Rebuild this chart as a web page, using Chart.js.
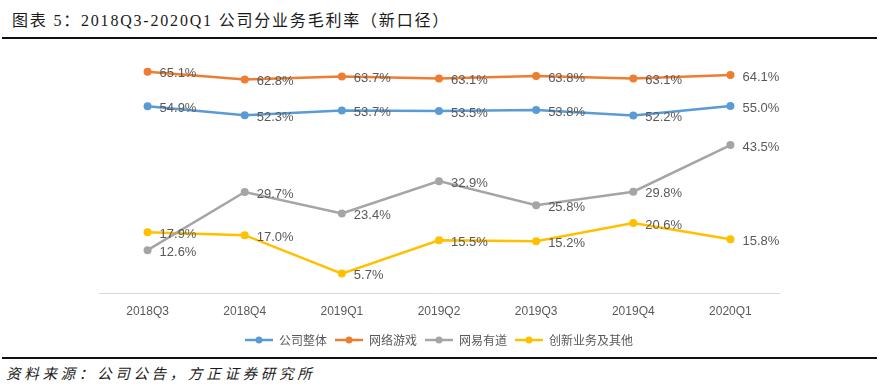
<!DOCTYPE html>
<html>
<head>
<meta charset="utf-8">
<script src="https://cdn.jsdelivr.net/npm/chart.js@4/dist/chart.umd.min.js"></script>
<style>
  html, body { margin: 0; padding: 0; background: #fff; }
  body { width: 880px; height: 389px; position: relative; overflow: hidden; }
  #title { position: absolute; left: 12px; top: 7px; font-family: "Liberation Serif", "Noto Sans CJK SC", serif; font-size: 16px; letter-spacing: 1.8px; color: #1a1a1a; white-space: nowrap; }
  #tline { position: absolute; left: 2px; width: 875px; top: 37px; height: 2px; background: #111; }
  #fline { position: absolute; left: 2px; width: 875px; top: 357px; height: 2px; background: #111; }
  #foot { position: absolute; left: 6px; top: 362px; font-family: "Noto Sans CJK SC", sans-serif; font-style: italic; font-size: 14.5px; letter-spacing: 3.7px; color: #1a1a1a; white-space: nowrap; }
  #wrap { position: absolute; left: 0; top: 42px; width: 880px; height: 314px; }
</style>
</head>
<body>
<div id="title">图表 5：2018Q3-2020Q1 公司分业务毛利率（新口径）</div>
<div id="tline"></div>
<div id="wrap"><canvas id="c"></canvas></div>
<div id="fline"></div>
<div id="foot">资料来源：公司公告，方正证券研究所</div>
<script>
const categories = ["2018Q3", "2018Q4", "2019Q1", "2019Q2", "2019Q3", "2019Q4", "2020Q1"];
const seriesNames = ["公司整体", "网络游戏", "网易有道", "创新业务及其他"];
const companyTotal = [54.9, 52.3, 53.7, 53.5, 53.8, 52.2, 55.0];
const onlineGames = [65.1, 62.8, 63.7, 63.1, 63.8, 63.1, 64.1];
const youdao = [12.6, 29.7, 23.4, 32.9, 25.8, 29.8, 43.5];
const innovation = [17.9, 17.0, 5.7, 15.5, 15.2, 20.6, 15.8];
const colors = ["#5B9BD5", "#ED7D31", "#A5A5A5", "#FFC000"];
const seriesData = [companyTotal, onlineGames, youdao, innovation];

function markerImg(color) {
  const cv = document.createElement('canvas');
  cv.width = 28; cv.height = 8;
  const g = cv.getContext('2d');
  g.strokeStyle = color; g.lineWidth = 2.5;
  g.beginPath(); g.moveTo(0, 4); g.lineTo(28, 4); g.stroke();
  g.fillStyle = color;
  g.beginPath(); g.arc(14, 4, 3.5, 0, Math.PI * 2); g.fill();
  return cv;
}

const labelPlugin = {
  id: 'vlabels',
  afterDatasetsDraw(chart) {
    const ctx = chart.ctx;
    ctx.save();
    ctx.font = '13px "Liberation Sans", Arial, sans-serif';
    ctx.fillStyle = '#595959';
    ctx.textAlign = 'left';
    ctx.textBaseline = 'middle';
    chart.data.datasets.forEach((ds, i) => {
      const meta = chart.getDatasetMeta(i);
      meta.data.forEach((pt, j) => {
        ctx.fillText(ds.data[j].toFixed(1) + '%', pt.x + 12, pt.y + 2);
      });
    });
    ctx.restore();
  }
};

new Chart(document.getElementById('c'), {
  type: 'line',
  data: {
    labels: categories,
    datasets: seriesData.map((d, i) => ({
      label: seriesNames[i],
      data: d,
      borderColor: colors[i],
      backgroundColor: colors[i],
      borderWidth: 2.5,
      pointStyle: 'circle',
      pointRadius: 4,
      pointHoverRadius: 4,
      pointBackgroundColor: colors[i],
      pointBorderColor: colors[i],
      pointBorderWidth: 0,
      tension: 0,
      fill: false
    }))
  },
  options: {
    responsive: true,
    maintainAspectRatio: false,
    animation: false,
    layout: { padding: { left: 99, right: 101, top: 13, bottom: 0 } },
    plugins: {
      legend: {
        position: 'bottom',
        labels: {
          usePointStyle: true,
          pointStyleWidth: 28,
          boxHeight: 8,
          padding: 8,
          color: '#595959',
          font: { size: 12, family: '"Noto Sans CJK SC", sans-serif' },
          generateLabels(chart) {
            return chart.data.datasets.map((ds, i) => ({
              text: ds.label,
              fillStyle: colors[i],
              strokeStyle: colors[i],
              lineWidth: 0,
              pointStyle: markerImg(colors[i]),
              datasetIndex: i,
              fontColor: '#595959'
            }));
          }
        }
      },
      tooltip: { enabled: false }
    },
    scales: {
      x: {
        offset: true,
        grid: { display: true, color: 'rgba(0,0,0,0)', drawOnChartArea: false, drawTicks: false, offset: true },
        border: { display: true, color: '#d9d9d9', width: 1 },
        ticks: { color: '#595959', font: { size: 12, family: '"Liberation Sans", Arial, sans-serif' }, padding: 11 },
        afterFit(scale) { scale.height = 33; }
      },
      y: {
        display: false,
        min: 0,
        max: 70
      }
    }
  },
  plugins: [labelPlugin]
});
</script>
</body>
</html>
